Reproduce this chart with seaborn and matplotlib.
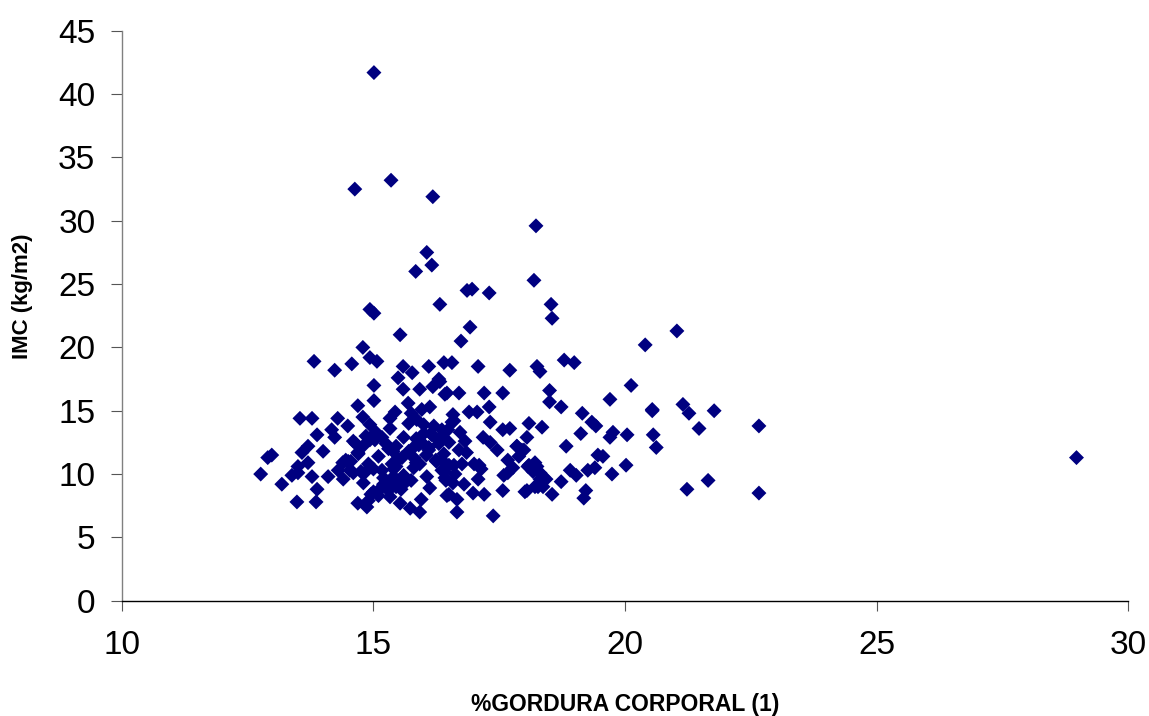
import matplotlib
matplotlib.use("Agg")
import matplotlib.pyplot as plt
import seaborn as sns
import pandas as pd

# %gordura corporal (x) e IMC (y)
gordura = [
    15.01, 14.63, 15.35, 16.18, 18.23, 16.06, 16.16, 15.84, 18.19, 16.96,
    16.86, 17.30, 16.32, 18.53, 18.55, 14.93, 15.01, 21.03, 16.92, 15.53,
    16.74, 20.40, 14.79, 13.82, 14.23, 14.57, 14.93, 15.07, 15.59, 15.77,
    15.49, 16.10, 16.40, 16.30, 15.01, 15.01, 15.59, 15.69, 15.92, 16.18,
    16.46, 14.69, 15.43, 15.96, 14.29, 13.54, 13.78, 14.49, 14.79, 14.93,
    13.88, 14.17, 14.23, 13.70, 14.00, 13.58, 12.98, 12.90, 12.76, 13.18,
    13.48, 13.86, 13.88, 13.38, 13.50, 13.70, 13.50, 14.10, 13.78, 14.39,
    14.53, 14.69, 14.79, 14.93, 14.69, 14.87, 15.03, 15.17, 15.33, 15.33,
    15.39, 15.92, 15.73, 15.53, 15.33, 15.45, 15.57, 15.17, 15.37, 15.57,
    15.77, 15.96, 16.16, 16.36, 16.56, 16.10, 16.24, 16.36, 16.44, 16.50,
    15.92, 16.06, 16.12, 16.46, 15.75, 15.86, 16.00, 16.14, 16.28, 16.12,
    16.56, 17.08, 17.71, 18.25, 18.31, 18.79, 18.99, 20.12, 19.70, 20.54,
    18.50, 18.50, 18.73, 19.15, 19.34, 19.42, 19.12, 19.76, 19.70, 20.04,
    20.56, 20.62, 18.83, 19.46, 19.56, 20.02, 19.74, 18.91, 19.03, 19.26,
    19.40, 18.73, 19.22, 19.18, 18.55, 18.35, 18.09, 18.05, 17.85, 17.95,
    18.37, 18.09, 18.25, 18.31, 18.43, 18.05, 18.27, 17.57, 17.71, 17.32,
    17.30, 17.57, 17.20, 16.70, 16.90, 17.06, 16.58, 16.32, 16.42, 17.18,
    17.32, 17.46, 17.85, 17.99, 17.89, 17.67, 17.77, 17.59, 17.67, 17.00,
    17.14, 17.08, 16.76, 16.62, 16.80, 16.98, 17.20, 16.66, 16.66, 17.38,
    17.57, 18.01, 18.21, 18.31, 18.37, 18.21, 18.07, 18.17, 16.36, 16.50,
    16.70, 16.82, 16.36, 16.50, 16.40, 16.42, 16.58, 16.48, 16.60, 16.72,
    21.15, 21.27, 21.77, 21.47, 22.66, 28.97, 21.65, 21.23, 22.66, 20.54,
    14.40, 14.60, 14.80, 15.00, 15.20, 15.40, 15.60, 15.80, 14.50, 14.70,
    14.90, 15.10, 15.30, 15.50, 15.70, 15.90, 16.10, 14.60, 14.85, 15.05,
    15.25, 15.45, 15.65, 15.85, 16.05, 16.25, 14.75, 14.95, 15.15, 15.35,
    15.55, 15.75, 15.95, 14.90, 15.10, 15.30, 15.50, 15.70, 16.00, 16.20,
    14.45, 14.65, 14.85, 15.20, 15.40, 15.60, 15.80, 16.30, 15.00, 15.45,
    15.85, 14.30, 14.55, 16.40, 16.60, 16.85, 17.10,
]
imc = [
    41.7, 32.5, 33.2, 31.9, 29.6, 27.5, 26.5, 26.0, 25.3, 24.6,
    24.5, 24.3, 23.4, 23.4, 22.3, 23.0, 22.7, 21.3, 21.6, 21.0,
    20.5, 20.2, 20.0, 18.9, 18.2, 18.7, 19.2, 18.9, 18.5, 18.0,
    17.6, 18.5, 18.8, 17.5, 17.0, 15.8, 16.7, 15.6, 16.7, 16.9,
    16.4, 15.4, 14.9, 15.1, 14.4, 14.4, 14.4, 13.8, 14.5, 13.9,
    13.1, 13.5, 12.9, 12.2, 11.8, 11.7, 11.5, 11.3, 10.0, 9.2,
    7.8, 7.8, 8.8, 9.9, 10.1, 10.9, 10.6, 9.8, 9.8, 10.9,
    10.3, 11.7, 12.2, 12.7, 7.7, 7.4, 12.7, 12.9, 14.4, 13.6,
    11.8, 7.0, 7.3, 7.7, 8.2, 9.0, 9.5, 10.3, 10.8, 11.3,
    12.0, 12.5, 13.1, 13.5, 14.1, 11.9, 11.1, 10.3, 9.5, 8.4,
    10.8, 9.8, 8.9, 8.3, 14.8, 14.3, 13.9, 13.2, 12.7, 15.3,
    18.8, 18.5, 18.2, 18.5, 18.1, 19.0, 18.8, 17.0, 15.9, 15.1,
    16.6, 15.7, 15.3, 14.8, 14.1, 13.8, 13.2, 13.3, 12.9, 13.1,
    13.1, 12.1, 12.2, 11.5, 11.4, 10.7, 10.0, 10.3, 9.9, 10.3,
    10.5, 9.4, 8.7, 8.1, 8.4, 13.7, 14.0, 12.9, 12.2, 11.9,
    9.8, 10.7, 10.6, 10.1, 9.6, 8.7, 9.0, 13.5, 13.6, 14.1,
    15.3, 16.4, 16.4, 16.4, 14.9, 14.9, 14.7, 17.3, 16.3, 12.9,
    12.5, 11.9, 12.2, 11.9, 11.4, 11.1, 10.5, 9.9, 10.1, 10.8,
    10.4, 9.6, 10.8, 10.0, 9.2, 8.5, 8.4, 8.0, 7.0, 6.7,
    8.7, 8.6, 9.0, 9.6, 9.0, 10.9, 10.6, 10.2, 13.0, 12.5,
    11.9, 12.6, 11.1, 10.7, 10.2, 9.7, 9.3, 13.5, 14.2, 13.3,
    15.5, 14.8, 15.0, 13.6, 13.8, 11.3, 9.5, 8.8, 8.5, 15.0,
    9.6, 10.1, 9.3, 8.6, 9.7, 10.4, 9.9, 10.5, 11.0, 11.6,
    10.8, 11.4, 12.0, 11.2, 11.8, 12.3, 12.1, 12.6, 13.0, 13.3,
    12.4, 10.6, 9.4, 10.9, 11.5, 11.0, 10.2, 8.4, 8.9, 9.2,
    8.8, 9.5, 8.0, 7.9, 8.3, 8.7, 9.1, 14.0, 13.2, 13.8,
    11.1, 12.4, 10.2, 9.2, 9.8, 12.9, 11.3, 12.4, 10.4, 12.2,
    12.8, 10.3, 11.0, 11.6, 10.7, 11.7, 10.7,
]

df = pd.DataFrame({"gordura": gordura, "imc": imc})

sns.set_style("white")
plt.rcParams["font.family"] = ["Liberation Sans", "DejaVu Sans"]

fig = plt.figure(figsize=(11.49, 7.16), dpi=100)
ax = fig.add_axes([0.106, 0.161, 0.876, 0.796])

sns.scatterplot(data=df, x="gordura", y="imc", marker="D", s=58,
                color="#000080", edgecolor="none", ax=ax, legend=False)

ax.set_xlim(10, 30)
ax.set_ylim(0, 45)
ax.set_xticks(range(10, 31, 5))
ax.set_yticks(range(0, 46, 5))
ax.tick_params(axis="both", labelsize=24, direction="out", width=0.8,
               color="#555555", labelcolor="black", left=True, bottom=True)
ax.tick_params(axis="x", length=7, pad=14)
ax.tick_params(axis="y", length=8, pad=11)
for s in ["top", "right"]:
    ax.spines[s].set_visible(False)
ax.spines["left"].set_color("#808080")
ax.spines["bottom"].set_color("black")
ax.spines["left"].set_linewidth(1)
ax.spines["bottom"].set_linewidth(1)

ax.set_xlabel("%GORDURA CORPORAL (1)", fontsize=16.5, fontweight="bold",
              color="black", labelpad=23)
ax.set_ylabel("IMC (kg/m2)", fontsize=16, fontweight="bold", color="black")
ax.yaxis.set_label_coords(-0.088, 0.535)

fig.savefig("out.png", dpi=100)
